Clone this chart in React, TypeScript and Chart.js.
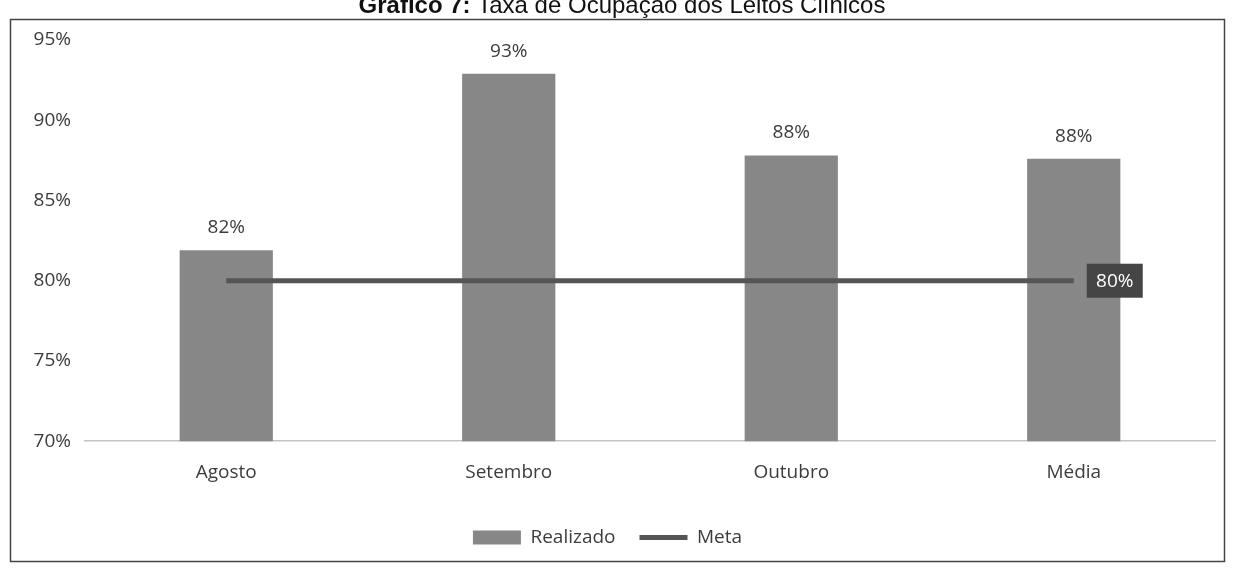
import React, { useEffect, useRef } from "react";
import { Chart, registerables } from "chart.js";

Chart.register(...registerables);

const categories = ["Agosto", "Setembro", "Outubro", "Média"];
const realizado = [81.9, 92.9, 87.8, 87.6];
const meta = [80, 80, 80, 80];
const yMin = 70;
const yMax = 95;
const yStep = 5;
const titleBold = "Gráfico 7:";
const titleRest = " Taxa de Ocupação dos Leitos Clínicos";

const FONT = "'Open Sans', 'Noto Sans', sans-serif";
const BAR_COLOR = "#878787";
const LINE_COLOR = "#555555";
const TEXT_COLOR = "#3c3c3c";

const framePlugin = {
  id: "frame",
  beforeDraw(chart: any) {
    const ctx = chart.ctx;
    ctx.save();
    ctx.fillStyle = "#ffffff";
    ctx.fillRect(0, 0, chart.width, chart.height);
    ctx.strokeStyle = "#444444";
    ctx.lineWidth = 1.5;
    ctx.strokeRect(10.5, 19.5, 1214, 542);
    const fb = "bold 24px 'Liberation Sans', Arial, sans-serif";
    const fr = "24px 'Liberation Sans', Arial, sans-serif";
    ctx.font = fb;
    const wb = ctx.measureText(titleBold).width;
    ctx.font = fr;
    const wr = ctx.measureText(titleRest).width;
    const x0 = 622 - (wb + wr) / 2;
    ctx.fillStyle = "#111111";
    ctx.textBaseline = "alphabetic";
    ctx.textAlign = "left";
    ctx.font = fb;
    ctx.fillText(titleBold, x0, 13);
    ctx.font = fr;
    ctx.fillText(titleRest, x0 + wb, 13);
    ctx.restore();
  },
};

const labelsPlugin = {
  id: "valueLabels",
  afterDatasetsDraw(chart: any) {
    const ctx = chart.ctx;
    ctx.save();
    const barMeta = chart.getDatasetMeta(0);
    ctx.font = `19px ${FONT}`;
    ctx.fillStyle = TEXT_COLOR;
    ctx.textAlign = "center";
    ctx.textBaseline = "bottom";
    barMeta.data.forEach((el: any, i: number) => {
      ctx.fillText(`${Math.round(realizado[i])}%`, el.x, el.y - 13);
    });
    const lineMeta = chart.getDatasetMeta(1);
    const last = lineMeta.data[lineMeta.data.length - 1];
    const text = `${Math.round(meta[meta.length - 1])}%`;
    const bw = 56;
    const bh = 34;
    const bx = last.x + 13;
    const by = last.y - bh / 2;
    ctx.fillStyle = "#454545";
    ctx.fillRect(bx, by, bw, bh);
    ctx.fillStyle = "#ffffff";
    ctx.textBaseline = "middle";
    ctx.fillText(text, bx + bw / 2, by + bh / 2 + 1);
    ctx.restore();
  },
};

export default function App() {
  const ref = useRef<HTMLCanvasElement | null>(null);
  useEffect(() => {
    if (!ref.current) return;
    const chart = new Chart(ref.current, {
      type: "bar",
      data: {
        labels: categories,
        datasets: [
          {
            type: "bar",
            label: "Realizado",
            data: realizado,
            backgroundColor: BAR_COLOR,
            borderWidth: 0,
            barPercentage: 0.33,
            categoryPercentage: 1,
            order: 1,
            pointStyle: "rect",
          } as any,
          {
            type: "line",
            label: "Meta",
            data: meta,
            borderColor: LINE_COLOR,
            backgroundColor: LINE_COLOR,
            borderWidth: 5,
            pointRadius: 0,
            pointStyle: "line",
            order: 0,
          } as any,
        ],
      },
      options: {
        responsive: false,
        animation: false,
        layout: { padding: { top: 40, right: 19, bottom: 16, left: 0 } },
        scales: {
          y: {
            min: yMin,
            max: yMax,
            ticks: {
              stepSize: yStep,
              padding: 14,
              color: TEXT_COLOR,
              font: { family: FONT, size: 19 },
              callback: (v: any) => `${v}%`,
            },
            grid: { display: false, drawTicks: false },
            border: { display: false },
            afterFit: (s: any) => {
              s.width = 85;
            },
          },
          x: {
            ticks: {
              padding: 20,
              color: TEXT_COLOR,
              font: { family: FONT, size: 19 },
            },
            grid: { display: false, drawTicks: false },
            border: { display: true, color: "#c4c4c4", width: 1.5 },
          },
        },
        plugins: {
          tooltip: { enabled: false },
          legend: {
            position: "bottom",
            labels: {
              usePointStyle: true,
              pointStyleWidth: 48,
              boxHeight: 14,
              padding: 24,
              color: TEXT_COLOR,
              font: { family: FONT, size: 19 },
              sort: (a: any, b: any) => a.datasetIndex - b.datasetIndex,
              generateLabels: (c: any) => {
                const items = Chart.defaults.plugins.legend.labels.generateLabels(c);
                return items.map((it: any) =>
                  it.datasetIndex === 0
                    ? { ...it, pointStyle: "rect", fillStyle: BAR_COLOR, strokeStyle: BAR_COLOR, lineWidth: 0 }
                    : { ...it, pointStyle: "line", strokeStyle: LINE_COLOR, fillStyle: LINE_COLOR, lineWidth: 5 }
                );
              },
            },
          },
        },
      },
      plugins: [framePlugin, labelsPlugin],
    });
    return () => chart.destroy();
  }, []);
  return (
    <div style={{ position: "absolute", left: 0, top: 0, width: 1234, height: 573 }}>
      <canvas ref={ref} width={1234} height={573} />
    </div>
  );
}
